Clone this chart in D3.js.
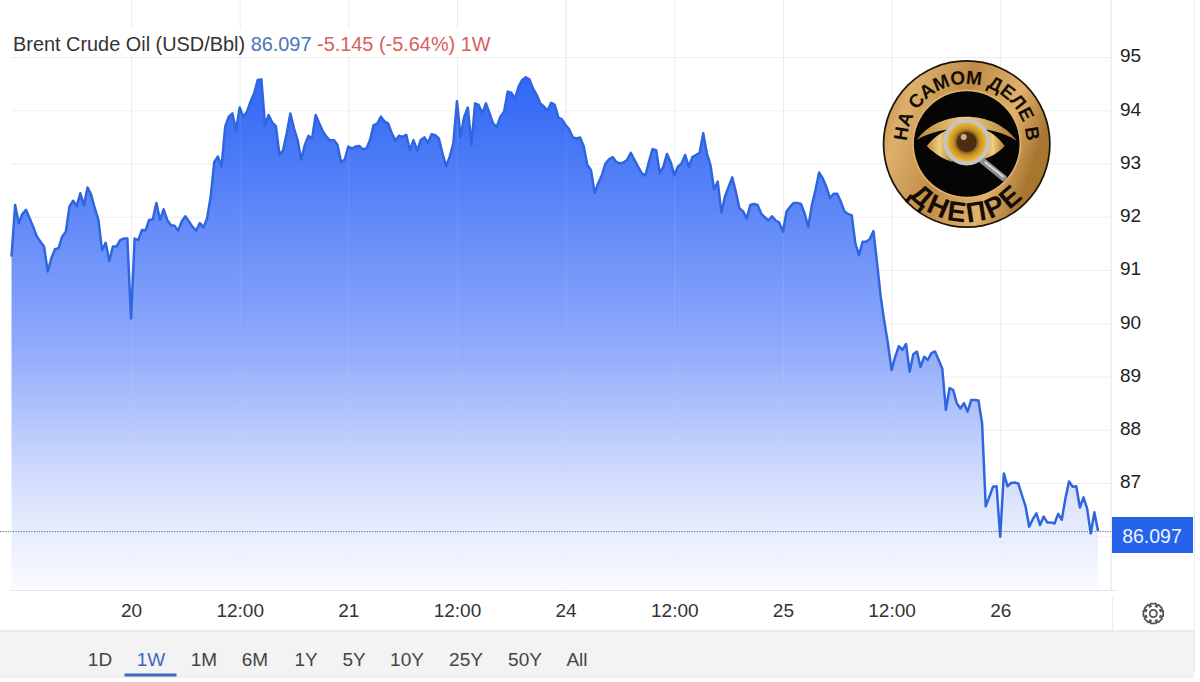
<!DOCTYPE html>
<html><head><meta charset="utf-8">
<script src="https://cdn.jsdelivr.net/npm/d3@7/dist/d3.min.js"></script>
<style>html,body{margin:0;padding:0;background:#fff}svg{display:block}text{font-family:"Liberation Sans",Arial,sans-serif}</style>
</head><body><svg id="c" width="1200" height="682"></svg>
<script>
const prices = [
91.25,92.22,91.88,92.05,92.13,91.97,91.81,91.63,91.53,91.44,90.97,91.22,91.39,91.41,91.63,91.72,92.19,92.30,92.20,92.44,
92.22,92.55,92.41,92.16,91.94,91.37,91.51,91.17,91.44,91.44,91.56,91.59,91.59,90.09,91.59,91.56,91.75,91.74,91.94,91.95,
92.26,91.94,92.14,91.94,91.84,91.83,91.74,91.91,92.01,91.91,91.81,91.74,91.88,91.80,91.97,92.38,93.03,93.13,92.94,93.69,
93.88,93.94,93.63,94.05,93.88,93.97,94.16,94.32,94.57,94.58,93.72,93.91,93.77,93.70,93.16,93.25,93.57,93.94,93.66,93.44,
93.07,93.35,93.52,93.47,93.91,93.75,93.60,93.50,93.43,93.44,93.35,93.03,93.07,93.32,93.28,93.32,93.33,93.27,93.28,93.44,
93.72,93.75,93.88,93.79,93.75,93.57,93.43,93.52,93.50,93.54,93.25,93.44,93.24,93.44,93.49,93.39,93.55,93.53,93.47,93.19,
92.95,93.13,93.38,94.17,93.50,93.88,94.05,93.35,94.13,94.10,93.94,94.13,93.94,93.75,93.69,93.88,93.97,94.35,94.33,94.22,
94.44,94.57,94.62,94.58,94.41,94.29,94.13,94.07,93.99,94.14,94.10,93.86,93.83,93.72,93.64,93.49,93.47,93.49,93.32,92.97,
92.88,92.45,92.63,92.78,93.00,93.08,93.12,93.03,93.00,93.02,93.07,93.20,93.07,92.94,92.82,92.77,93.03,93.27,93.25,92.82,
92.94,93.18,93.03,92.78,92.94,93.00,93.16,92.94,93.12,93.16,93.20,93.57,93.19,92.97,92.51,92.66,92.08,92.38,92.56,92.74,
92.47,92.16,92.10,91.97,92.22,92.24,92.22,92.06,91.99,91.93,92.01,91.93,91.89,91.72,92.10,92.19,92.26,92.26,92.24,92.06,
91.81,92.22,92.50,92.83,92.72,92.56,92.35,92.43,92.43,92.28,92.10,92.05,92.03,91.50,91.28,91.53,91.53,91.58,91.73,91.13,
90.50,90.03,89.62,89.12,89.37,89.57,89.50,89.61,89.09,89.42,89.47,89.18,89.37,89.31,89.44,89.47,89.31,89.15,88.37,88.78,
88.75,88.50,88.40,88.50,88.34,88.56,88.56,88.55,88.12,86.56,86.74,86.93,86.94,85.99,87.18,86.94,87.00,87.01,86.99,86.77,
86.56,86.18,86.32,86.43,86.21,86.37,86.26,86.26,86.24,86.42,86.31,86.71,87.03,86.93,86.94,86.54,86.73,86.52,86.05,86.45,
86.097];
const xTickIndex = [33,63,93,123,153,183,213,243,273];
const xTickLabels = ["20","12:00","21","12:00","24","12:00","25","12:00","26"];
const yTickValues = [87,88,89,90,91,92,93,94,95];
const yGridValues = [86,87,88,89,90,91,92,93,94,95];
const ranges = ["1D","1W","1M","6M","1Y","5Y","10Y","25Y","50Y","All"];
const rangeCenters = [100,151,204,255,306,354,407,466,525,577];
const lastPrice = 86.097;

const svg = d3.select("#c");
const x = d3.scaleLinear().domain([0, prices.length-1]).range([11.5,1098]);
const y = d3.scaleLinear().domain([87,95]).range([483,57]);
const base = 590;
const defs = svg.append("defs");

const g1 = defs.append("linearGradient").attr("id","fillG").attr("gradientUnits","userSpaceOnUse")
  .attr("x1",0).attr("x2",0).attr("y1",75).attr("y2",base);
[[0,"#2f66f6"],[0.27,"#5f88f8"],[0.52,"#8fa9fb"],[0.83,"#dde5fd"],[1,"#fbfcff"]].forEach(s=>g1.append("stop").attr("offset",s[0]).attr("stop-color",s[1]));

svg.append("rect").attr("x",0).attr("y",631).attr("width",1194).attr("height",46).attr("fill","#f3f3f3");
svg.append("line").attr("x1",0).attr("x2",1194).attr("y1",631).attr("y2",631).attr("stroke","#e6e6e6").attr("stroke-width",1.5);
svg.append("line").attr("x1",0).attr("x2",1194).attr("y1",677.5).attr("y2",677.5).attr("stroke","#ececec");
svg.append("line").attr("x1",1194.5).attr("x2",1194.5).attr("y1",0).attr("y2",672).attr("stroke","#ececec");

const gridCol = "#eeeeee";
svg.append("g")
  .call(d3.axisBottom(x).tickValues(xTickIndex).tickSize(base).tickFormat(""))
  .call(g=>{g.select(".domain").remove();g.selectAll("line").attr("stroke",gridCol);});
svg.append("g").attr("transform","translate(11,0)")
  .call(d3.axisRight(y).tickValues(yGridValues).tickSize(1100).tickFormat(""))
  .call(g=>{g.select(".domain").remove();g.selectAll("line").attr("stroke",gridCol);});

svg.append("path").datum(prices).attr("fill","url(#fillG)")
  .attr("d",d3.area().x((d,i)=>x(i)).y0(base).y1(d=>y(d)));
svg.append("g").call(d3.axisBottom(x).tickValues(xTickIndex).tickSize(base).tickFormat(""))
  .call(g=>{g.select(".domain").remove();g.selectAll("line").attr("stroke","#dfe5f8").attr("stroke-opacity",0.12);});
svg.append("path").datum(prices).attr("fill","none").attr("stroke","#2f66df").attr("stroke-width",2.5)
  .attr("stroke-linejoin","round")
  .attr("d",d3.line().x((d,i)=>x(i)).y(d=>y(d)));

svg.append("line").attr("x1",1111).attr("x2",1111).attr("y1",0).attr("y2",591).attr("stroke","#e4e4e4");
svg.append("line").attr("x1",10).attr("x2",1117).attr("y1",590.5).attr("y2",590.5).attr("stroke","#e4e4e4");
svg.append("line").attr("x1",1112.5).attr("x2",1112.5).attr("y1",597).attr("y2",631).attr("stroke","#ececec");

svg.append("line").attr("x1",0).attr("x2",1111).attr("y1",y(lastPrice)+0.5).attr("y2",y(lastPrice)+0.5)
  .attr("stroke","#5b6472").attr("stroke-dasharray","1.2 1.4");

svg.append("rect").attr("x",0).attr("y",29).attr("width",498).attr("height",27).attr("fill","#fff");
const title = svg.append("text").attr("x",13).attr("y",51).attr("font-size",19.9);
title.append("tspan").attr("fill","#333").text("Brent Crude Oil (USD/Bbl) ");
title.append("tspan").attr("fill","#4a76b8").text(lastPrice.toFixed(3)+" ");
title.append("tspan").attr("fill","#d9605c").text("-5.145 (-5.64%) 1W");

svg.append("g").attr("transform","translate(1111,0)")
  .call(d3.axisRight(y).tickValues(yTickValues).tickSize(0).tickPadding(9).tickFormat(d3.format("d")))
  .call(g=>{g.select(".domain").remove();g.selectAll("text").attr("font-size",19).attr("fill","#222").attr("font-family","Liberation Sans").attr("dy","0.25em");});

svg.append("g").attr("transform","translate(0,590)")
  .call(d3.axisBottom(x).tickValues(xTickIndex).tickSize(0).tickPadding(14).tickFormat((d,i)=>xTickLabels[i]))
  .call(g=>{g.select(".domain").remove();g.selectAll("text").attr("font-size",19).attr("fill","#333").attr("font-family","Liberation Sans");});

svg.append("rect").attr("x",1112).attr("y",517).attr("width",81).attr("height",36).attr("fill","#2563eb");
svg.append("text").attr("x",1152).attr("y",543).attr("text-anchor","middle").attr("font-size",19.5).attr("fill","#eef3ff").text(lastPrice.toFixed(3));

svg.append("g").selectAll("text").data(ranges).join("text")
  .attr("x",(d,i)=>rangeCenters[i]).attr("y",665.5).attr("text-anchor","middle").attr("font-size",19)
  .attr("fill",d=>d==="1W"?"#3d68c0":"#444").text(d=>d);
svg.append("rect").attr("x",124.5).attr("y",673.5).attr("width",52).attr("height",3).attr("fill","#3d68c0");

(function(){
  const cx=1153.3, cy=613.5, teeth=8, p=d3.path();
  const R=10.2,r=7.6;
  for(let t=0;t<teeth;t++){
    const a=t*2*Math.PI/teeth, w=0.26, w2=0.42;
    const pts=[[r,a-w2-0.08],[R,a-w],[R,a+w],[r,a+w2+0.08]];
    pts.forEach((q,j)=>{const X=cx+q[0]*Math.cos(q[1]),Y=cy+q[0]*Math.sin(q[1]); (t===0&&j===0)?p.moveTo(X,Y):p.lineTo(X,Y);});
  }
  p.closePath();
  svg.append("path").attr("d",p.toString()).attr("fill","none").attr("stroke","#555").attr("stroke-width",1.8).attr("stroke-linejoin","round");
  svg.append("circle").attr("cx",cx).attr("cy",cy).attr("r",3.6).attr("fill","none").attr("stroke","#555").attr("stroke-width",1.8);
})();

(function(){
  const cx=966.7, cy=144;
  const gold=defs.append("linearGradient").attr("id","gold").attr("x1",0).attr("x2",1).attr("y1",0).attr("y2",0.35);
  [[0,"#b98540"],[0.2,"#dcb06c"],[0.5,"#c08c45"],[0.8,"#e0b26c"],[1,"#a97630"]].forEach(s=>gold.append("stop").attr("offset",s[0]).attr("stop-color",s[1]));
  const eye=defs.append("linearGradient").attr("id","eyeG").attr("x1",0).attr("x2",1).attr("y1",0).attr("y2",0);
  [[0,"#b98a3a"],[0.5,"#f0d080"],[1,"#a87a30"]].forEach(s=>eye.append("stop").attr("offset",s[0]).attr("stop-color",s[1]));
  const iris=defs.append("radialGradient").attr("id","iris");
  [[0,"#2a1a0a"],[0.42,"#6b4418"],[0.62,"#c68f22"],[1,"#f6c83e"]].forEach(s=>iris.append("stop").attr("offset",s[0]).attr("stop-color",s[1]));
  const b=svg.append("g").attr("transform",`translate(${cx},${cy})`);
  b.append("circle").attr("r",84).attr("fill","#1a1208");
  b.append("circle").attr("r",82.3).attr("fill","url(#gold)");
  b.append("circle").attr("r",54.5).attr("fill","#e0b36b");
  b.append("circle").attr("r",52.8).attr("fill","#050505");
  b.append("path").attr("fill","url(#eyeG)")
    .attr("d","M-50,-4 C-28,-35 28,-35 50,-3 C26,-20 -24,-20 -50,-4 Z");
  b.append("path").attr("fill","url(#eyeG)")
    .attr("d","M-40,2 C-32,-8 -22,-14 -14,-16 L-14,18 C-22,16 -32,10 -40,2 Z");
  b.append("path").attr("fill","url(#eyeG)")
    .attr("d","M38,2 C32,-7 22,-14 14,-16 L14,16 C22,14 32,9 38,2 Z");
  b.append("line").attr("x1",16).attr("y1",17).attr("x2",37).attr("y2",34).attr("stroke","#8d8d8d").attr("stroke-width",6.5).attr("stroke-linecap","round");
  b.append("line").attr("x1",18).attr("y1",18).attr("x2",37).attr("y2",33).attr("stroke","#d8d8d8").attr("stroke-width",2);
  b.append("circle").attr("cy",-2).attr("r",21.5).attr("fill","url(#iris)").attr("stroke","#c4c4c4").attr("stroke-width",4);
  b.append("circle").attr("cy",-2).attr("r",10).attr("fill","#4a2f12");
  b.append("circle").attr("cx",-3).attr("cy",-7).attr("r",3).attr("fill","#e8d2a8").attr("opacity",0.8);
  const arc=(r,a0,a1,sweep)=>{const P=(a)=>[r*Math.sin(a),-r*Math.cos(a)];const s=P(a0),e=P(a1);return `M${s[0]},${s[1]} A${r},${r} 0 ${Math.abs(a1-a0)>Math.PI?1:0} ${sweep} ${e[0]},${e[1]}`;};
  defs.append("path").attr("id","arcTop").attr("d",arc(60,-2.0,2.0,1));
  defs.append("path").attr("id","arcBot").attr("d",arc(78,Math.PI+1.3,Math.PI-1.3,0));
  b.append("text").style("font-family",'"Liberation Sans Narrow","Liberation Sans"').attr("font-size",19).attr("font-weight","bold").attr("fill","#120c05")
    .append("textPath").attr("href","#arcTop").attr("startOffset","50%").attr("text-anchor","middle").text("НА САМОМ ДЕЛЕ В");
  b.append("text").attr("font-size",28).attr("font-weight","bold").attr("letter-spacing",2.5).attr("fill","#120c05")
    .append("textPath").attr("href","#arcBot").attr("startOffset","50%").attr("text-anchor","middle").text("ДНЕПРЕ");
})();
</script></body></html>
